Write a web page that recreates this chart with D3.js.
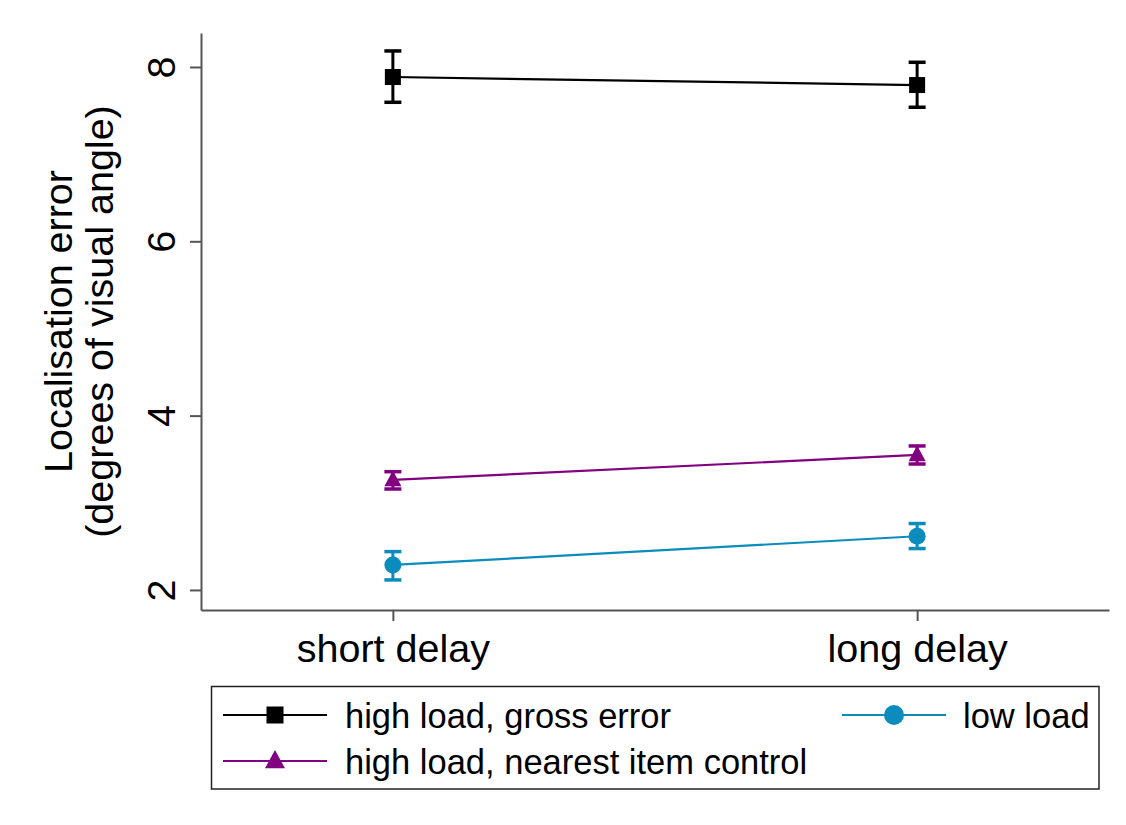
<!DOCTYPE html>
<html>
<head>
<meta charset="utf-8">
<script src="https://cdn.jsdelivr.net/npm/d3@7"></script>
<style>
  html, body { margin: 0; padding: 0; background: #fff; }
  svg text { font-family: "Liberation Sans", Arial, sans-serif; fill: #000; }
</style>
</head>
<body>
<svg id="chart" width="1126" height="825"></svg>
<script>
// Conditions on the x axis
const delays = ["short delay", "long delay"];

// Mean localisation error per condition, with error-bar bounds
const grossMean = [7.885, 7.793];
const grossLo   = [7.595, 7.538];
const grossHi   = [8.184, 8.054];

const nearestMean = [3.262, 3.549];
const nearestLo   = [3.158, 3.445];
const nearestHi   = [3.357, 3.652];

const lowMean = [2.287, 2.616];
const lowLo   = [2.115, 2.475];
const lowHi   = [2.440, 2.762];

const yTicks = [2, 4, 6, 8];
const yDomain = [1.77, 8.39];

const seriesNames = ["high load, gross error", "high load, nearest item control", "low load"];

const series = [
  { name: seriesNames[0], mean: grossMean,   lo: grossLo,   hi: grossHi,   color: "#000000", shape: "square" },
  { name: seriesNames[1], mean: nearestMean, lo: nearestLo, hi: nearestHi, color: "#800080", shape: "triangle" },
  { name: seriesNames[2], mean: lowMean,     lo: lowLo,     hi: lowHi,     color: "#0b8cbd", shape: "circle" }
];

const svg = d3.select("#chart");
const axisColor = "#555";
const labelSize = 39.5;

const x = d3.scalePoint().domain(delays).range([201, 1109]).padding(0.366);
const y = d3.scaleLinear().domain(yDomain).range([610, 33]);

// Y axis
const yAxis = svg.append("g").attr("transform", "translate(201,0)")
  .call(d3.axisLeft(y).tickValues(yTicks).tickSize(11).tickSizeOuter(0).tickPadding(0).tickFormat(d3.format("d")));
yAxis.select(".domain").attr("stroke", axisColor).attr("stroke-width", 2);
yAxis.selectAll(".tick line").attr("stroke", axisColor).attr("stroke-width", 2);
yAxis.selectAll(".tick text")
  .attr("x", null).attr("dy", null)
  .attr("transform", "translate(-26,0) rotate(-90)")
  .attr("text-anchor", "middle")
  .attr("font-size", labelSize)
  .style("fill", "#000");

// X axis
const xAxis = svg.append("g").attr("transform", "translate(0,610)")
  .call(d3.axisBottom(x).tickSize(11).tickSizeOuter(0).tickPadding(0));
xAxis.select(".domain").attr("stroke", axisColor).attr("stroke-width", 2);
xAxis.selectAll(".tick line").attr("stroke", axisColor).attr("stroke-width", 2);
xAxis.selectAll(".tick text")
  .attr("y", 52).attr("dy", null)
  .attr("font-size", labelSize)
  .style("fill", "#000");

// Y axis title (two lines)
const cy = (y.range()[0] + y.range()[1]) / 2;
const title = svg.append("g").attr("transform", `translate(0,${cy}) rotate(-90)`);
title.append("text").attr("x", 0).attr("y", 72).attr("text-anchor", "middle")
  .attr("font-size", labelSize).text("Localisation error");
title.append("text").attr("x", 0).attr("y", 113).attr("text-anchor", "middle")
  .attr("font-size", labelSize).text("(degrees of visual angle)");

// Marker drawing helper
function drawMarker(g, shape, cx, cyv, color, size) {
  if (shape === "square") {
    g.append("rect").attr("x", cx - size / 2).attr("y", cyv - size / 2)
      .attr("width", size).attr("height", size).attr("fill", color);
  } else if (shape === "circle") {
    g.append("circle").attr("cx", cx).attr("cy", cyv).attr("r", size / 2).attr("fill", color);
  } else {
    const h = size * 0.92;
    g.append("path")
      .attr("d", `M${cx},${cyv - h * 0.6} L${cx + size / 2},${cyv + h * 0.4} L${cx - size / 2},${cyv + h * 0.4} Z`)
      .attr("fill", color);
  }
}

const markerSize = { square: 16, circle: 17, triangle: 17 };
const capW = 17;
const plot = svg.append("g");

series.forEach(s => {
  const g = plot.append("g");
  const pts = delays.map((d, i) => [x(d), y(s.mean[i])]);
  g.append("path").attr("d", d3.line()(pts))
    .attr("fill", "none").attr("stroke", s.color).attr("stroke-width", 2.2);
  delays.forEach((d, i) => {
    const cx = x(d);
    g.append("line").attr("x1", cx).attr("x2", cx)
      .attr("y1", y(s.lo[i])).attr("y2", y(s.hi[i]))
      .attr("stroke", s.color).attr("stroke-width", 3);
    [s.lo[i], s.hi[i]].forEach(v => {
      g.append("line").attr("x1", cx - capW / 2).attr("x2", cx + capW / 2)
        .attr("y1", y(v)).attr("y2", y(v))
        .attr("stroke", s.color).attr("stroke-width", 3.5);
    });
    drawMarker(g, s.shape, cx, y(s.mean[i]), s.color, markerSize[s.shape]);
  });
});

// Legend
const legend = svg.append("g");
legend.append("rect").attr("x", 211.5).attr("y", 686.5).attr("width", 887.5).attr("height", 102.5)
  .attr("fill", "#fff").attr("stroke", "#222").attr("stroke-width", 1.5);

const legendItems = [
  { s: series[0], lx: 223, ly: 715, tx: 345, size: 17 },
  { s: series[1], lx: 223, ly: 761, tx: 345, size: 20 },
  { s: series[2], lx: 842, ly: 715, tx: 963, size: 20 }
];
legendItems.forEach(it => {
  const g = legend.append("g");
  g.append("line").attr("x1", it.lx).attr("x2", it.lx + 104)
    .attr("y1", it.ly).attr("y2", it.ly)
    .attr("stroke", it.s.color).attr("stroke-width", 2.2);
  drawMarker(g, it.s.shape, it.lx + 52, it.ly, it.s.color, it.size);
  g.append("text").attr("x", it.tx).attr("y", it.ly + 12.5)
    .attr("font-size", 34.5).text(it.s.name);
});
</script>
</body>
</html>
